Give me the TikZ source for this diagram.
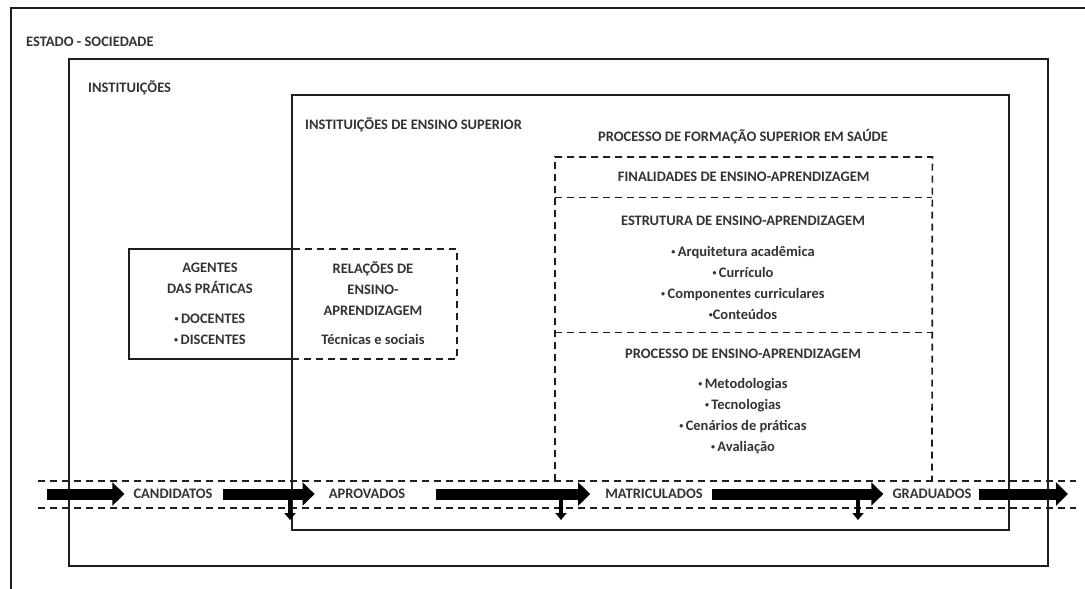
\documentclass[tikz,border=0pt]{standalone}
\usepackage{fontspec}
\setmainfont{Carlito}
\usetikzlibrary{arrows.meta}
\definecolor{ink}{HTML}{333333}
\definecolor{linec}{HTML}{1E1E1E}
\newcommand{\bulmark}{\raisebox{0.28ex}{\scalebox{0.55}{\textbullet}}}
\newcommand{\bul}{\bulmark\,}
\begin{document}
\begin{tikzpicture}[x=1pt,y=-1pt,
  frame/.style={draw=linec, line width=1.7pt, inner sep=0pt, anchor=north west},
  dashbox/.style={draw=linec, line width=1.7pt, dash pattern=on 7pt off 5pt, inner sep=0pt, anchor=north west},
  area/.style={inner sep=0pt, anchor=north west},
  dashline/.style={draw=linec, line width=1.7pt, dash pattern=on 7pt off 5pt},
  lbl/.style={font=\bfseries\fontsize{14.5}{21}\selectfont, text=ink, inner sep=0pt},
  flow/.style={draw=black, line width=11pt, -{Triangle[length=12pt,width=23pt]}},
  drop/.style={draw=black, line width=4pt, -{Triangle[length=7pt,width=11pt]}}
]
\useasboundingbox (0,0) rectangle (1085,589);
% outer frame (cropped)
\draw[draw=linec, line width=1.7pt] (11,589) -- (11,8) -- (1085,8);
% boxes
\node[frame, minimum width=979pt, minimum height=507pt] (inst) at (68,58) {};
\node[frame, minimum width=717pt, minimum height=435pt] (ies) at (291,94) {};
\node[frame, minimum width=163pt, minimum height=110pt] (agentes) at (128,248) {};
\node[dashbox, minimum width=165pt, minimum height=110pt] (rel) at (291,248) {};
\node[area, minimum width=377pt, minimum height=40pt] (fin) at (555,157) {};
\node[area, minimum width=377pt, minimum height=135pt] (est) at (555,197) {};
\coordinate (pl) at (555,481);
\coordinate (pr) at (932,481);
\draw[dashline] (pl) -- (fin.north west) -- (fin.north east) -- (pr);
\draw[dashline] (fin.south west) -- (fin.south east);
\draw[dashline] (est.south west) -- (est.south east);
% flow band
\coordinate (bandtl) at (38,481);
\coordinate (bandtr) at (1076,481);
\coordinate (bandbl) at (38,508);
\coordinate (bandbr) at (1076,508);
\draw[dashline] (bandtl) -- (bandtr);
\draw[dashline] (bandbl) -- (bandbr);
% titles
\node[lbl, anchor=west] (t1) at (26,42) {ESTADO - SOCIEDADE};
\node[lbl, anchor=west] (t2) at (88,88) {INSTITUIÇÕES};
\node[lbl, anchor=west] (t3) at (305,125) {INSTITUIÇÕES DE ENSINO SUPERIOR};
\node[lbl] (t4) at (743,137) {PROCESSO DE FORMAÇÃO SUPERIOR EM SAÚDE};
\node[lbl] (t5) at (fin.center) {FINALIDADES DE ENSINO-APRENDIZAGEM};
\node[lbl] (t6) at (743,221) {ESTRUTURA DE ENSINO-APRENDIZAGEM};
\node[lbl, align=center] (t7) at (743,282.5) {\bul Arquitetura acadêmica\\\bul Currículo\\\bul Componentes curriculares\\\bulmark Conteúdos};
\node[lbl] (t8) at (743,354) {PROCESSO DE ENSINO-APRENDIZAGEM};
\node[lbl, align=center] (t9) at (743,416) {\bul Metodologias\\\bul Tecnologias\\\bul Cenários de práticas\\\bul Avaliação};
\node[lbl, align=center] (a1) at (210,278) {AGENTES\\DAS PRÁTICAS};
\node[lbl, align=center] (a2) at (210,329) {\bul DOCENTES\\\bul DISCENTES};
\node[lbl, align=center] (r1) at (373,289) {RELAÇÕES DE\\ENSINO-\\APRENDIZAGEM};
\node[lbl] (r2) at (373,339) {Técnicas e sociais};
% flow labels
\node[lbl] (cand) at (173,494) {CANDIDATOS};
\node[lbl] (apr) at (367,494) {APROVADOS};
\node[lbl] (mat) at (654,494) {MATRICULADOS};
\node[lbl] (grad) at (932,494) {GRADUADOS};
\coordinate (start) at (47,494);
\coordinate (finish) at (1068,494);
\draw[flow] (start) -- ([xshift=-9pt]cand.west);
\draw[flow] ([xshift=10pt]cand.east) -- ([xshift=-14pt]apr.west);
\draw[flow] ([xshift=31pt]apr.east) -- ([xshift=-15pt]mat.west);
\draw[flow] ([xshift=9pt]mat.east) -- ([xshift=-9pt]grad.west);
\draw[flow] ([xshift=7pt]grad.east) -- (finish);
% drop-out arrows
\coordinate (d1) at (290,496);
\coordinate (d1e) at (290,520);
\coordinate (d2) at (561,496);
\coordinate (d2e) at (561,520);
\coordinate (d3) at (858,496);
\coordinate (d3e) at (858,520);
\draw[drop] (d1) -- (d1e);
\draw[drop] (d2) -- (d2e);
\draw[drop] (d3) -- (d3e);
\end{tikzpicture}
\end{document}
